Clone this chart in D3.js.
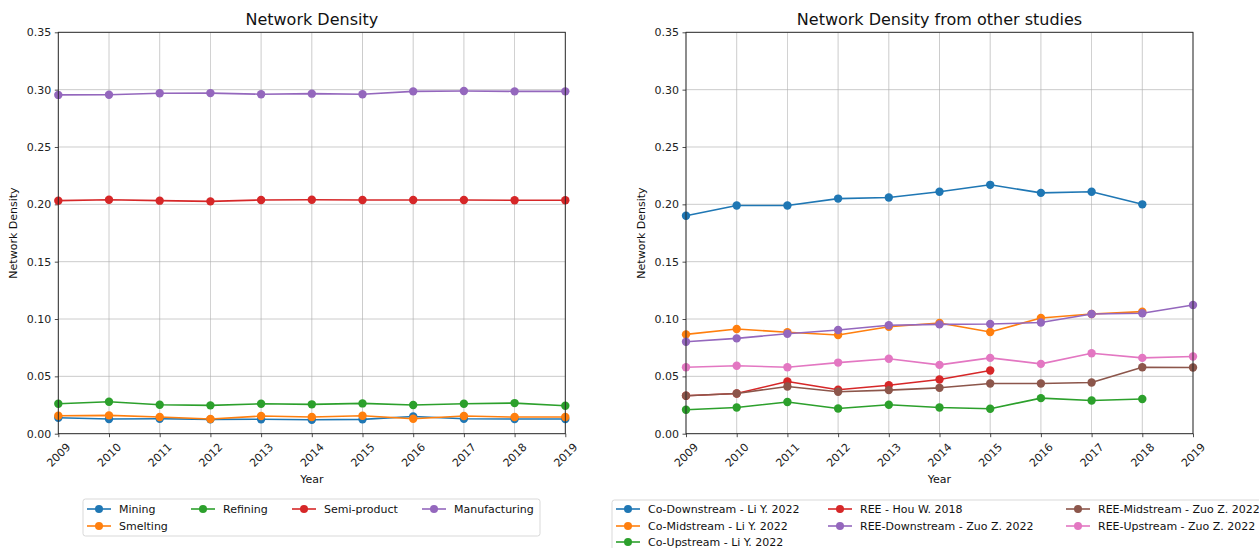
<!DOCTYPE html>
<html>
<head>
<meta charset="utf-8">
<script src="https://cdn.jsdelivr.net/npm/d3@7"></script>
<style>
  html, body { margin: 0; padding: 0; background: #fff; }
  svg { display: block; font-family: "DejaVu Sans", sans-serif; }
</style>
</head>
<body>
<svg id="chart" width="1259" height="548"></svg>
<script>
// ---- data ----
const years = [2009, 2010, 2011, 2012, 2013, 2014, 2015, 2016, 2017, 2018, 2019];
const yTicks = [0, 0.05, 0.10, 0.15, 0.20, 0.25, 0.30, 0.35];

// Left panel: network density by supply-chain stage
const mining        = [0.0139, 0.0128, 0.0130, 0.0125, 0.0126, 0.0122, 0.0125, 0.0150, 0.0130, 0.0128, 0.0128];
const smelting      = [0.0157, 0.0160, 0.0145, 0.0128, 0.0154, 0.0145, 0.0157, 0.0130, 0.0154, 0.0145, 0.0145];
const refining      = [0.0261, 0.0279, 0.0253, 0.0247, 0.0261, 0.0256, 0.0264, 0.0250, 0.0261, 0.0267, 0.0244];
const semiProduct   = [0.2032, 0.2040, 0.2032, 0.2026, 0.2038, 0.2040, 0.2038, 0.2038, 0.2038, 0.2035, 0.2035];
const manufacturing = [0.2954, 0.2956, 0.2968, 0.2970, 0.2960, 0.2965, 0.2960, 0.2985, 0.2988, 0.2985, 0.2985];

// Right panel: values reported by other studies (null = no data)
const coDownstream  = [0.190, 0.199, 0.199, 0.205, 0.206, 0.211, 0.217, 0.210, 0.211, 0.200, null];
const coMidstream   = [0.0866, 0.0913, 0.0884, 0.0860, 0.0933, 0.0965, 0.0887, 0.1009, 0.1044, 0.1064, null];
const coUpstream    = [0.0209, 0.0229, 0.0276, 0.0220, 0.0252, 0.0229, 0.0218, 0.0310, 0.0290, 0.0302, null];
const reeHou        = [0.0331, 0.0351, 0.0455, 0.0383, 0.0423, 0.0473, 0.0551, null, null, null, null];
const reeDownstream = [0.0802, 0.0831, 0.0872, 0.0904, 0.0945, 0.0953, 0.0956, 0.0970, 0.1044, 0.1050, 0.1122];
const reeMidstream  = [0.0331, 0.0351, 0.0412, 0.0366, 0.0380, 0.0400, 0.0438, 0.0438, 0.0447, 0.0580, 0.0577];
const reeUpstream   = [0.0580, 0.0593, 0.0580, 0.0620, 0.0654, 0.0600, 0.0661, 0.0609, 0.0702, 0.0661, 0.0673];

const palette = ["#1f77b4", "#ff7f0e", "#2ca02c", "#d62728", "#9467bd", "#8c564b", "#e377c2"];

const leftSeries = [
  { name: "Mining", values: mining, color: palette[0] },
  { name: "Smelting", values: smelting, color: palette[1] },
  { name: "Refining", values: refining, color: palette[2] },
  { name: "Semi-product", values: semiProduct, color: palette[3] },
  { name: "Manufacturing", values: manufacturing, color: palette[4] }
];
const rightSeries = [
  { name: "Co-Downstream - Li Y. 2022", values: coDownstream, color: palette[0] },
  { name: "Co-Midstream - Li Y. 2022", values: coMidstream, color: palette[1] },
  { name: "Co-Upstream - Li Y. 2022", values: coUpstream, color: palette[2] },
  { name: "REE - Hou W. 2018", values: reeHou, color: palette[3] },
  { name: "REE-Downstream - Zuo Z. 2022", values: reeDownstream, color: palette[4] },
  { name: "REE-Midstream - Zuo Z. 2022", values: reeMidstream, color: palette[5] },
  { name: "REE-Upstream - Zuo Z. 2022", values: reeUpstream, color: palette[6] }
];

const svg = d3.select("#chart");
const plotTop = 32.3, plotBottom = 433.7, plotW = 507;

function drawPanel(cfg) {
  const x = d3.scaleLinear().domain([2009, 2019]).range([cfg.left, cfg.left + plotW]);
  const y = d3.scaleLinear().domain([0, 0.35]).range([plotBottom, plotTop]);
  const g = svg.append("g");

  // grid
  g.append("g").selectAll("line").data(years).join("line")
    .attr("x1", d => x(d)).attr("x2", d => x(d))
    .attr("y1", plotTop).attr("y2", plotBottom)
    .attr("stroke", "#b0b0b0").attr("stroke-width", 0.8).attr("opacity", 0.8);
  g.append("g").selectAll("line").data(yTicks).join("line")
    .attr("x1", cfg.left).attr("x2", cfg.left + plotW)
    .attr("y1", d => y(d)).attr("y2", d => y(d))
    .attr("stroke", "#b0b0b0").attr("stroke-width", 0.8).attr("opacity", 0.8);

  // axes
  const yAxis = d3.axisLeft(y).tickValues(yTicks).tickFormat(d3.format(".2f")).tickSize(3.5).tickPadding(3.5);
  const yg = g.append("g").attr("transform", `translate(${cfg.left},0)`).call(yAxis);
  yg.select(".domain").remove();
  yg.selectAll("text").attr("font-size", 11).attr("fill", "#222").attr("font-family", "DejaVu Sans, sans-serif");
  yg.selectAll("line").attr("stroke", "#222").attr("stroke-width", 0.8);

  const xAxis = d3.axisBottom(x).tickValues(years).tickFormat(d3.format("d")).tickSize(3.5);
  const xg = g.append("g").attr("transform", `translate(0,${plotBottom})`).call(xAxis);
  xg.select(".domain").remove();
  xg.selectAll("line").attr("stroke", "#222").attr("stroke-width", 0.8);
  xg.selectAll("text")
    .attr("font-size", 11).attr("fill", "#222").attr("font-family", "DejaVu Sans, sans-serif")
    .attr("y", null).attr("dy", null)
    .attr("text-anchor", "middle").attr("dominant-baseline", "central")
    .attr("transform", "translate(0,21.5) rotate(-45)");

  // line series
  const line = d3.line().defined(d => d.v != null).x(d => x(d.year)).y(d => y(d.v));
  cfg.series.forEach(s => {
    const pts = years.map((yr, i) => ({ year: yr, v: s.values[i] }));
    g.append("path").datum(pts)
      .attr("d", line).attr("fill", "none")
      .attr("stroke", s.color).attr("stroke-width", 1.6).attr("stroke-linejoin", "round");
    g.append("g").selectAll("circle").data(pts.filter(p => p.v != null)).join("circle")
      .attr("cx", p => x(p.year)).attr("cy", p => y(p.v)).attr("r", 4.2)
      .attr("fill", s.color);
  });

  // frame
  g.append("rect").attr("x", cfg.left).attr("y", plotTop)
    .attr("width", plotW).attr("height", plotBottom - plotTop)
    .attr("fill", "none").attr("stroke", "#222").attr("stroke-width", 0.9);

  // titles and labels
  g.append("text").attr("x", cfg.left + plotW / 2).attr("y", 25)
    .attr("text-anchor", "middle").attr("font-size", 16).attr("fill", "#111").text(cfg.title);
  g.append("text").attr("x", cfg.left + plotW / 2).attr("y", 483)
    .attr("text-anchor", "middle").attr("font-size", 11).attr("fill", "#111").text("Year");
  g.append("text")
    .attr("transform", `translate(${cfg.left - 41},${(plotTop + plotBottom) / 2}) rotate(-90)`)
    .attr("text-anchor", "middle").attr("font-size", 11).attr("fill", "#111").text("Network Density");

  // legend
  const L = cfg.legend;
  g.append("rect").attr("x", L.x).attr("y", L.y).attr("width", L.w).attr("height", L.h)
    .attr("rx", 2.5).attr("fill", "#fff").attr("stroke", "#d9d9d9").attr("stroke-width", 1);
  cfg.series.forEach((s, i) => {
    const pos = L.positions[i];
    const lx = pos[0], ly = pos[1];
    g.append("line").attr("x1", lx).attr("x2", lx + 24).attr("y1", ly).attr("y2", ly)
      .attr("stroke", s.color).attr("stroke-width", 1.6);
    g.append("circle").attr("cx", lx + 12).attr("cy", ly).attr("r", 4).attr("fill", s.color);
    g.append("text").attr("x", lx + 32).attr("y", ly).attr("dominant-baseline", "central")
      .attr("font-size", 11).attr("fill", "#111").text(s.name);
  });
}

drawPanel({
  left: 58.3, title: "Network Density", series: leftSeries,
  legend: {
    x: 83, y: 499, w: 457, h: 37,
    positions: [[87, 509], [87, 526], [191, 509], [292, 509], [422, 509]]
  }
});

drawPanel({
  left: 686, title: "Network Density from other studies", series: rightSeries,
  legend: {
    x: 612, y: 500, w: 660, h: 60,
    positions: [[616, 509], [616, 526], [616, 542], [828, 509], [828, 526], [1066, 509], [1066, 526]]
  }
});
</script>
</body>
</html>
